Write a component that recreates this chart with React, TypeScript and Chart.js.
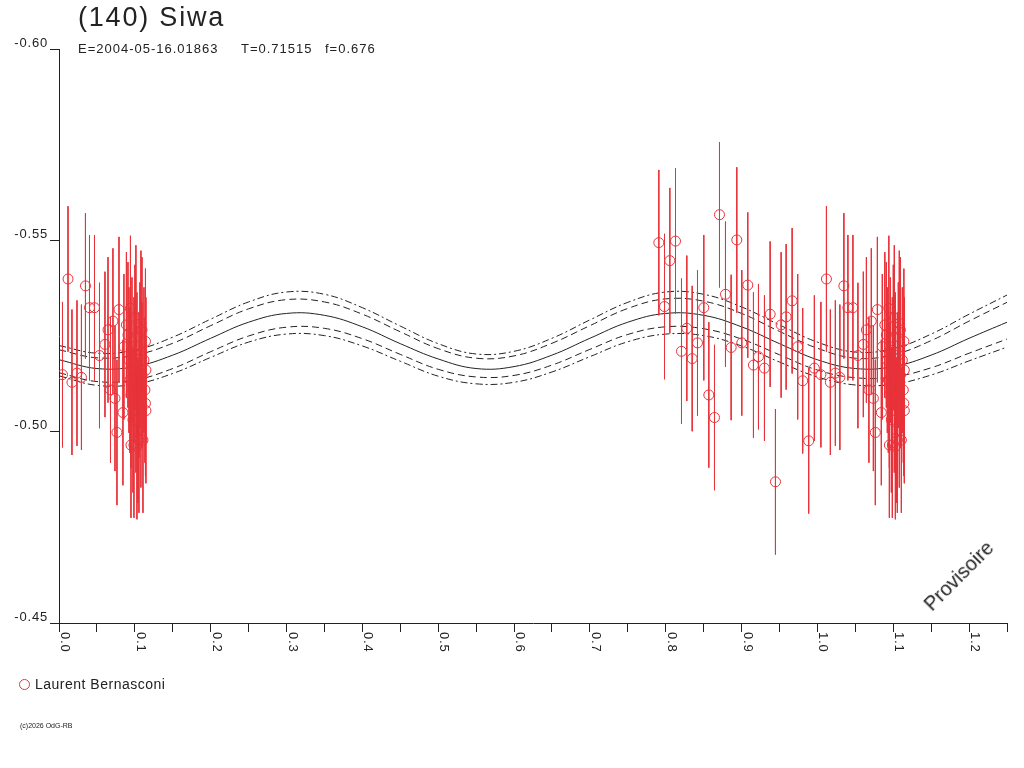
import React, { useEffect, useRef } from 'react';
import { Chart, registerables } from 'chart.js';
Chart.register(...registerables);

// Observations: rotational phase and reduced magnitude (Laurent Bernasconi)
const phases = [
  0.0046, 0.0119, 0.0171, 0.0237, 0.0296, 0.0349, 0.0402, 0.0468, 0.0534, 0.0606, 0.0646, 0.0711, 0.0679,
  0.0738, 0.0764, 0.0791, 0.0843, 0.0889, 0.0942, 0.1080, 0.1140, 0.1140, 0.1146, 0.1028, 0.0856, 0.1001,
  0.0909, 0.0922, 0.0935, 0.0949, 0.0962, 0.0975, 0.0988, 0.1014, 0.1028, 0.1041, 0.1054, 0.1067, 0.1080,
  0.1094, 0.1107, 0.1120, 0.1133, 0.1146, 0.0949, 0.0988, 0.1054, 0.1094, 0.1014,
  0.7909, 0.8129, 0.8054, 0.7984, 0.8709, 0.8937, 0.9082, 0.8788, 0.8502, 0.8278, 0.8419, 0.8208, 0.8349,
  0.8568, 0.8643, 0.8863, 0.9003, 0.9157, 0.9223, 0.9302, 0.9377, 0.9522, 0.9588, 0.9667, 0.9447, 0.9740,
  0.9806, 0.9885, 0.9960,
];
const mags = [
  -0.5149, -0.5399, -0.5129, -0.5153, -0.5142, -0.5381, -0.5324, -0.5324, -0.5199, -0.5228, -0.5266, -0.5289, -0.5109,
  -0.5087, -0.4998, -0.5319, -0.5050, -0.5279, -0.5322, -0.5283, -0.5236, -0.5074, -0.5055, -0.4961, -0.5222, -0.5246,
  -0.5253, -0.5187, -0.5135, -0.5096, -0.5213, -0.5031, -0.5161, -0.5083, -0.5174, -0.5004, -0.5122, -0.5200, -0.5044,
  -0.5148, -0.4978, -0.5187, -0.5109, -0.5161, -0.4965, -0.4965, -0.4978, -0.5266, -0.5297,
  -0.5494, -0.5498, -0.5447, -0.5327, -0.5567, -0.5501, -0.5383, -0.5359, -0.5324, -0.5270, -0.5232, -0.5210, -0.5191,
  -0.5096, -0.5037, -0.5220, -0.5232, -0.5174, -0.5196, -0.5166, -0.5307, -0.5279, -0.5300, -0.5342, -0.4869, -0.5222,
  -0.5133, -0.4976, -0.5166,
];
const errorBar = 0.019;

// Fitted light curve and its envelopes, sampled every 0.05 in phase
const curvePhases = [0, 0.05, 0.1, 0.15, 0.2, 0.25, 0.3, 0.35, 0.4, 0.45, 0.5, 0.55, 0.6, 0.65, 0.7, 0.75, 0.8, 0.85, 0.9, 0.95, 1.0, 1.05, 1.1, 1.15, 1.2, 1.25];
const fitCurve = [-0.5188, -0.5165, -0.5170, -0.5200, -0.5244, -0.5286, -0.5309, -0.5304, -0.5274, -0.5230, -0.5190, -0.5165, -0.5170, -0.5200, -0.5244, -0.5286, -0.5309, -0.5304, -0.5274, -0.5230, -0.5188, -0.5165, -0.5170, -0.5200, -0.5244, -0.5286];
const outerUpper = [-0.5225, -0.5205, -0.5213, -0.5247, -0.5294, -0.5339, -0.5365, -0.5359, -0.5324, -0.5276, -0.5230, -0.5203, -0.5210, -0.5244, -0.5292, -0.5338, -0.5365, -0.5359, -0.5326, -0.5279, -0.5234, -0.5208, -0.5217, -0.5255, -0.5307, -0.5357];
const innerUpper = [-0.5214, -0.5193, -0.5200, -0.5231, -0.5277, -0.5321, -0.5345, -0.5339, -0.5307, -0.5261, -0.5217, -0.5192, -0.5198, -0.5231, -0.5277, -0.5322, -0.5347, -0.5341, -0.5309, -0.5262, -0.5218, -0.5192, -0.5201, -0.5238, -0.5289, -0.5338];
const innerLower = [-0.5154, -0.5131, -0.5135, -0.5165, -0.5209, -0.5250, -0.5273, -0.5270, -0.5243, -0.5202, -0.5163, -0.5143, -0.5147, -0.5174, -0.5215, -0.5254, -0.5274, -0.5269, -0.5242, -0.5201, -0.5161, -0.5141, -0.5143, -0.5167, -0.5205, -0.5242];
const outerLower = [-0.5146, -0.5121, -0.5124, -0.5152, -0.5194, -0.5234, -0.5255, -0.5251, -0.5224, -0.5184, -0.5145, -0.5125, -0.5129, -0.5156, -0.5196, -0.5235, -0.5255, -0.5251, -0.5224, -0.5182, -0.5143, -0.5122, -0.5124, -0.5148, -0.5185, -0.5221];

const xTickValues = [0, 0.1, 0.2, 0.3, 0.4, 0.5, 0.6, 0.7, 0.8, 0.9, 1.0, 1.1, 1.2];
const xTickLabels = ['0.0', '0.1', '0.2', '0.3', '0.4', '0.5', '0.6', '0.7', '0.8', '0.9', '1.0', '1.1', '1.2'];

const RED = '#e8333a';
const INK = '#222222';
const FONT = '"Liberation Sans", Arial, sans-serif';

export default function App() {
  const ref = useRef<HTMLCanvasElement>(null);

  useEffect(() => {
    const pts: { x: number; y: number }[] = [];
    phases.forEach((p, i) => {
      pts.push({ x: p, y: mags[i] });
      if (p + 1 <= 1.25) pts.push({ x: p + 1, y: mags[i] });
    });
    const bars: { x: number; y: number | null }[] = [];
    pts.forEach((p) => {
      bars.push({ x: p.x, y: p.y - errorBar });
      bars.push({ x: p.x, y: p.y + errorBar });
      bars.push({ x: p.x, y: null });
    });
    const curve = (vals: number[]) => curvePhases.map((p, i) => ({ x: p, y: vals[i] }));
    const lineDs = (vals: number[], dash: number[], order: number) => ({
      type: 'line' as const,
      data: curve(vals),
      borderColor: INK,
      borderWidth: 1,
      borderDash: dash,
      pointRadius: 0,
      tension: 0.4,
      fill: false,
      order,
    });

    const xLabels = {
      id: 'xLabels',
      beforeDraw(chart: any) {
        chart.ctx.letterSpacing = '0.8px';
      },
      afterDraw(chart: any) {
        const { ctx, chartArea } = chart;
        const x = chart.scales.x;
        ctx.save();
        ctx.font = `13px ${FONT}`;
        ctx.fillStyle = INK;
        ctx.letterSpacing = '0.8px';
        ctx.textAlign = 'left';
        ctx.textBaseline = 'alphabetic';
        xTickValues.forEach((v, i) => {
          const px = x.getPixelForValue(v);
          ctx.save();
          ctx.translate(px + 2, chartArea.bottom + 9);
          ctx.rotate(Math.PI / 2);
          ctx.fillText(xTickLabels[i], 0, 0);
          ctx.restore();
        });
        ctx.restore();
      },
    };

    const chart = new Chart(ref.current!, {
      type: 'scatter',
      data: {
        datasets: [
          {
            type: 'scatter',
            data: pts,
            pointStyle: 'circle',
            pointRadius: 5,
            pointBorderWidth: 1,
            pointBorderColor: RED,
            pointBackgroundColor: 'rgba(0,0,0,0)',
            order: 0,
          } as any,
          {
            type: 'line',
            data: bars,
            borderColor: RED,
            borderWidth: 1,
            pointRadius: 0,
            spanGaps: false,
            tension: 0,
            order: 1,
          } as any,
          lineDs(fitCurve, [], 2),
          lineDs(innerUpper, [7, 4], 3),
          lineDs(innerLower, [7, 4], 4),
          lineDs(outerUpper, [7, 3, 2, 3], 5),
          lineDs(outerLower, [7, 3, 2, 3], 6),
        ],
      },
      options: {
        responsive: false,
        animation: false,
        events: [],
        layout: { padding: { left: 0, top: 49, right: 17, bottom: 0 } },
        plugins: { legend: { display: false }, tooltip: { enabled: false }, title: { display: false } },
        scales: {
          x: {
            type: 'linear',
            min: 0,
            max: 1.25,
            ticks: { display: false, stepSize: 0.05 },
            grid: { display: true, drawOnChartArea: false, drawTicks: true, tickLength: 9, color: INK, lineWidth: 1 },
            border: { display: true, color: INK, width: 1 },
            afterFit: (s: any) => { s.height = 145; },
          },
          y: {
            type: 'linear',
            min: -0.6,
            max: -0.45,
            reverse: true,
            ticks: {
              stepSize: 0.05,
              padding: 2,
              labelOffset: -6,
              color: INK,
              font: { family: FONT, size: 13 },
              callback: (v: any) => Number(v).toFixed(2),
            },
            grid: { display: true, drawOnChartArea: false, drawTicks: true, tickLength: 9, color: INK, lineWidth: 1 },
            border: { display: true, color: INK, width: 1 },
            afterFit: (s: any) => { s.width = 59; },
          },
        },
      },
      plugins: [xLabels],
    } as any);
    return () => chart.destroy();
  }, []);

  const abs = (extra: React.CSSProperties): React.CSSProperties => ({
    position: 'absolute',
    whiteSpace: 'nowrap',
    lineHeight: 1,
    fontFamily: FONT,
    color: INK,
    ...extra,
  });

  return (
    <div style={{ position: 'absolute', left: 0, top: 0, width: 1024, height: 768, background: '#fff', overflow: 'hidden' }}>
      <canvas ref={ref} width={1024} height={768} style={{ position: 'absolute', left: 0, top: 0, width: 1024, height: 768 }} />
      <div style={abs({ left: 78, top: 4, fontSize: 27, letterSpacing: '1.8px' })}>(140) Siwa</div>
      <div style={abs({ left: 78, top: 42, fontSize: 13, letterSpacing: '1px' })}>E=2004-05-16.01863</div>
      <div style={abs({ left: 241, top: 42, fontSize: 13, letterSpacing: '1px' })}>T=0.71515</div>
      <div style={abs({ left: 325, top: 42, fontSize: 13, letterSpacing: '1px' })}>f=0.676</div>
      <div style={{ position: 'absolute', left: 19, top: 679, width: 11, height: 11, boxSizing: 'border-box', border: `1px solid ${RED}`, borderRadius: '50%' }} />
      <div style={abs({ left: 35, top: 677, fontSize: 14, letterSpacing: '0.5px' })}>Laurent Bernasconi</div>
      <div style={abs({ left: 20, top: 722, fontSize: 7 })}>(c)2026 OdG-RB</div>
      <div style={abs({ left: 932, top: 595, fontSize: 20, transformOrigin: '0px 17px', transform: 'rotate(-45deg)' })}>Provisoire</div>
    </div>
  );
}
